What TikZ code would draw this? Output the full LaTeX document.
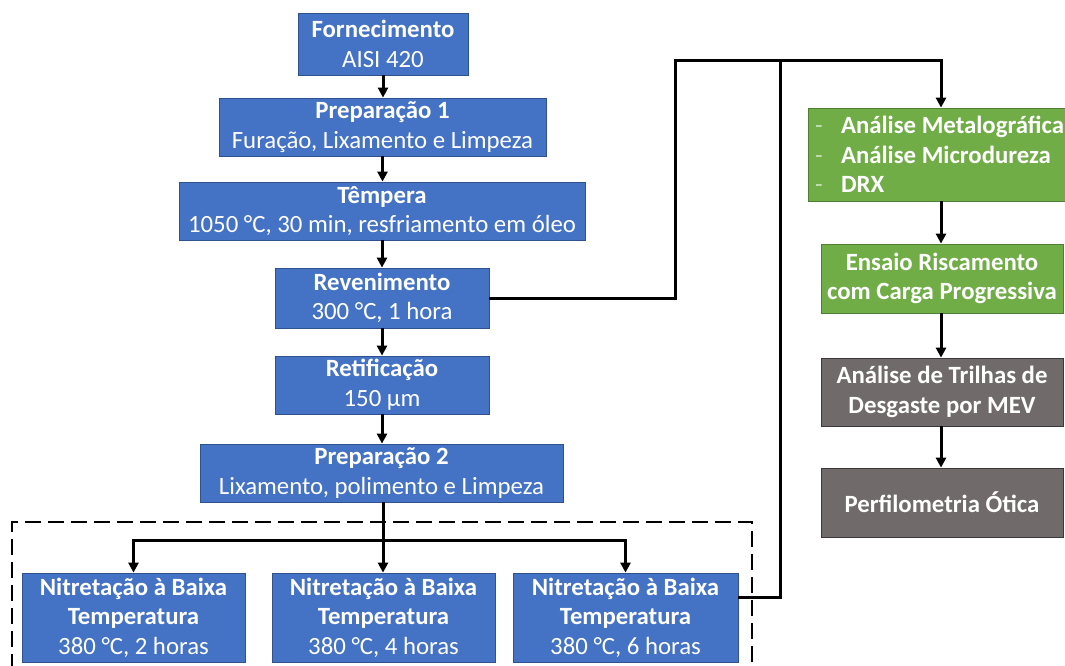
\documentclass[tikz,border=0pt]{standalone}
\usepackage{fontspec}
\setmainfont{Carlito}
\usetikzlibrary{arrows.meta,calc}
\definecolor{bbox}{HTML}{4472C4}
\definecolor{bline}{HTML}{2F528F}
\definecolor{gbox}{HTML}{70AD47}
\definecolor{gline}{HTML}{507E32}
\definecolor{dbox}{HTML}{706B6A}
\definecolor{dline}{HTML}{3A3838}
\definecolor{dashc}{HTML}{C9E0B8}
\tikzset{
  base/.style={text=white, align=center, inner sep=0pt, line width=0.8pt,
    font=\fontsize{24.8}{29.5}\selectfont},
  bluebox/.style={base, fill=bbox, draw=bline},
  greenbox/.style={base, fill=gbox, draw=gline},
  greybox/.style={base, fill=dbox, draw=dline},
  conn/.style={line width=3pt, draw=black},
  arr/.style={conn, -{Triangle[length=10pt,width=10pt]}},
}
\begin{document}
\begin{tikzpicture}[x=1pt,y=-1pt]
\useasboundingbox (0,0) rectangle (1065,665);
% dashed group
\draw[line width=2pt, dash pattern=on 16pt off 7pt] (12,670) -- (12,522) -- (752,522) -- (752,670);
% main column
\node[bluebox, minimum width=170, minimum height=62] (forn) at (383,44) {\textbf{Fornecimento}\\AISI 420};
\node[bluebox, minimum width=327, minimum height=58] (prep1) at (382.5,127) {\textbf{Preparação 1}\\Furação, Lixamento e Limpeza};
\node[bluebox, minimum width=406, minimum height=58] (temp) at (382,211) {\textbf{Têmpera}\\1050 °C, 30 min, resfriamento em óleo};
\node[bluebox, minimum width=214, minimum height=60] (rev) at (382,298) {\textbf{Revenimento}\\300 °C, 1 hora};
\node[bluebox, minimum width=214, minimum height=58] (ret) at (382,385) {\textbf{Retificação}\\150 µm};
\node[bluebox, minimum width=363, minimum height=58] (prep2) at (381.5,473) {\textbf{Preparação 2}\\Lixamento, polimento e Limpeza};
% nitriding boxes
\node[bluebox, minimum width=223, minimum height=89] (n1) at (133.5,617.5) {\textbf{Nitretação à Baixa}\\\textbf{Temperatura}\\380 °C, 2 horas};
\node[bluebox, minimum width=223, minimum height=89] (n2) at (383.5,617.5) {\textbf{Nitretação à Baixa}\\\textbf{Temperatura}\\380 °C, 4 horas};
\node[bluebox, minimum width=225, minimum height=89] (n3) at (625.5,617.5) {\textbf{Nitretação à Baixa}\\\textbf{Temperatura}\\380 °C, 6 horas};
% right column
\node[greenbox, minimum width=266, minimum height=93, text width=266, align=flush left] (g1) at (941,154.5)
  {\hspace*{7pt}\makebox[26pt][l]{\color{dashc}-}\textbf{Análise Metalográfica}\\
   \hspace*{7pt}\makebox[26pt][l]{\color{dashc}-}\textbf{Análise Microdureza}\\
   \hspace*{7pt}\makebox[26pt][l]{\color{dashc}-}\textbf{DRX}};
\node[greenbox, minimum width=242, minimum height=69] (g2) at (942,278.5) {\textbf{Ensaio Riscamento}\\\textbf{com Carga Progressiva}};
\node[greybox, minimum width=242, minimum height=68] (d1) at (942,392) {\textbf{Análise de Trilhas de}\\\textbf{Desgaste por MEV}};
\node[greybox, minimum width=242, minimum height=69] (d2) at (942,502.5) {\textbf{Perfilometria Ótica}};
% coordinates
\coordinate (tl) at (675,60);
\coordinate (tm) at (780,60);
\coordinate (tr) at (941,60);
\coordinate (bj) at (383,540);
\coordinate (n3out) at (738,597);
% connectors main column
\draw[arr] (forn.south) -- (forn.south |- prep1.north);
\draw[arr] (prep1.south) -- (prep1.south |- temp.north);
\draw[arr] (temp.south) -- (temp.south |- rev.north);
\draw[arr] (rev.south) -- (rev.south |- ret.north);
\draw[arr] (ret.south) -- (ret.south |- prep2.north);
\draw[conn] (prep2.south -| bj) -- (bj);
\draw[arr] (bj) -| (n1.north);
\draw[arr] (bj) -| (n3.north);
\draw[arr] (bj) -- (bj |- n2.north);
% right connectors
\draw[arr] (rev.east) -| (tl) -- (tr) -- (tr |- g1.north);
\draw[conn] (n3out) -| (tm);
\draw[arr] (g1.south -| tr) -- (tr |- g2.north);
\draw[arr] (g2.south -| tr) -- (tr |- d1.north);
\draw[arr] (d1.south -| tr) -- (tr |- d2.north);
\end{tikzpicture}
\end{document}
